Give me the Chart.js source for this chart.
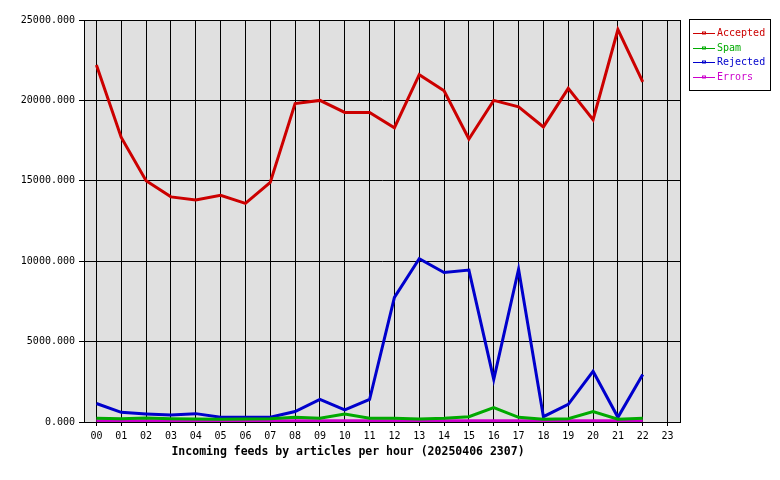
<!DOCTYPE html>
<html>
<head>
<meta charset="utf-8">
<script src="https://cdn.jsdelivr.net/npm/chart.js@4/dist/chart.umd.min.js"></script>
<style>
  html, body { margin: 0; padding: 0; background: #fff; }
</style>
</head>
<body>
<canvas id="chart" width="780" height="480"></canvas>
<script>
const hours = ['00','01','02','03','04','05','06','07','08','09','10','11',
               '12','13','14','15','16','17','18','19','20','21','22','23'];
const yTicks = [0, 5000, 10000, 15000, 20000, 25000];

const accepted = [22200, 17700, 15000, 14000, 13800, 14100, 13600, 14900, 19800, 20000, 19250, 19250,
                  18300, 21600, 20600, 17600, 20000, 19600, 18350, 20750, 18800, 24400, 21150];
const spam     = [230, 200, 250, 200, 180, 170, 180, 200, 300, 230, 500, 230,
                  230, 190, 230, 330, 900, 290, 170, 200, 650, 170, 230];
const rejected = [1150, 600, 500, 430, 520, 300, 300, 300, 650, 1400, 750, 1400,
                  7750, 10150, 9300, 9450, 2650, 9500, 330, 1100, 3150, 290, 2950];
const errors   = [80, 80, 80, 80, 80, 80, 80, 80, 80, 80, 80, 80,
                  80, 80, 80, 80, 80, 80, 80, 80, 80, 80, 80];

const mono = '"DejaVu Sans Mono", "Liberation Mono", monospace';

// grey plot area, frame, boxed legend and the caption below the chart
const decor = {
  id: 'decor',
  beforeDraw(chart) {
    const { ctx, chartArea: a } = chart;
    ctx.save();
    ctx.fillStyle = '#e0e0e0';
    ctx.fillRect(a.left, a.top, a.right - a.left, a.bottom - a.top);
    ctx.restore();
  },
  afterDraw(chart) {
    const { ctx, chartArea: a } = chart;
    ctx.save();
    ctx.strokeStyle = '#000';
    ctx.lineWidth = 1;
    ctx.strokeRect(Math.round(a.left) + 0.5, Math.round(a.top) + 0.5,
                   Math.round(a.right - a.left), Math.round(a.bottom - a.top));

    // legend
    ctx.fillStyle = '#fff';
    ctx.fillRect(689, 19, 81, 71);
    ctx.strokeRect(689.5, 19.5, 81, 71);
    ctx.font = '10px ' + mono;
    ctx.textBaseline = 'middle';
    chart.data.datasets.forEach((ds, i) => {
      const y = Math.round(33 + i * 14.7) + 0.5;
      ctx.strokeStyle = ds.borderColor;
      ctx.beginPath();
      ctx.moveTo(693, y);
      ctx.lineTo(715, y);
      ctx.stroke();
      ctx.strokeRect(702.5, y - 1.5, 3, 2);
      ctx.fillStyle = ds.borderColor;
      ctx.fillText(ds.label, 717, y);
    });

    // caption
    ctx.fillStyle = '#000';
    ctx.font = 'bold 11.5px ' + mono;
    ctx.textAlign = 'center';
    ctx.textBaseline = 'middle';
    ctx.fillText('Incoming feeds by articles per hour (20250406 2307)', 348, 452);
    ctx.restore();
  }
};

const line = (label, data, color) => ({
  label: label,
  data: data,
  borderColor: color,
  backgroundColor: color,
  borderWidth: 3,
  pointRadius: 0,
  tension: 0,
  fill: false
});

new Chart(document.getElementById('chart'), {
  type: 'line',
  data: {
    labels: hours,
    datasets: [
      line('Accepted', accepted, '#cc0000'),
      line('Spam', spam, '#00aa00'),
      line('Rejected', rejected, '#0000cc'),
      line('Errors', errors, '#cc00cc')
    ]
  },
  options: {
    responsive: false,
    animation: false,
    layout: { padding: { left: 0, top: 20, right: 100, bottom: 0 } },
    plugins: {
      legend: { display: false },
      tooltip: { enabled: false }
    },
    scales: {
      x: {
        offset: true,
        grid: { offset: false, color: '#000', lineWidth: 1, tickLength: 4 },
        border: { color: '#000' },
        ticks: { color: '#000', font: { family: mono, size: 10 }, padding: 4,
                 autoSkip: false, maxRotation: 0 },
        afterFit: s => { s.height = 58; }
      },
      y: {
        min: 0,
        max: 25000,
        afterBuildTicks: s => { s.ticks = yTicks.map(v => ({ value: v })); },
        grid: { color: '#000', lineWidth: 1, tickLength: 5 },
        border: { color: '#000' },
        ticks: { color: '#000', font: { family: mono, size: 10 }, padding: 4,
                 callback: v => Number(v).toFixed(3) },
        afterFit: s => { s.width = 84; }
      }
    }
  },
  plugins: [decor]
});
</script>
</body>
</html>
